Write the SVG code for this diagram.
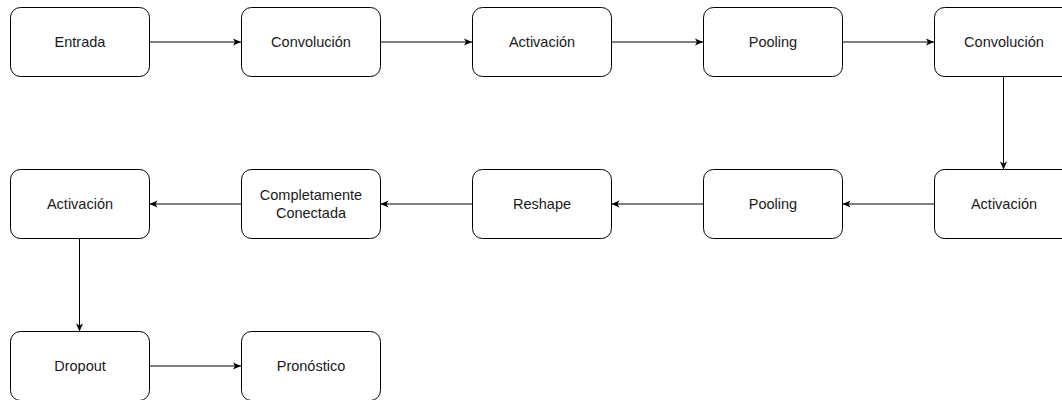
<svg xmlns="http://www.w3.org/2000/svg" width="1062" height="400" viewBox="0 0 1062 400">
<style>
.n{fill:#ffffff;stroke:#000000;stroke-width:1}
.t{font-family:"Liberation Sans",Arial,sans-serif;font-size:14.5px;fill:#1a1a1a;text-anchor:middle}
.c{fill:none;stroke:#000000;stroke-width:1;marker-end:url(#ah)}
</style>
<defs>
<marker id="ah" markerUnits="userSpaceOnUse" markerWidth="10" markerHeight="10" viewBox="0 0 10 10" refX="9" refY="5" orient="auto">
<path d="M1,1.5 L9,5 L1,8.5 L3,5 Z" fill="#000000"/>
</marker>
</defs>
<rect width="1062" height="400" fill="#ffffff"/>
<g id="connectors">
<path class="c" d="M149.5,42 L241,42"/>
<path class="c" d="M380.5,42 L472,42"/>
<path class="c" d="M611.5,42 L703,42"/>
<path class="c" d="M842.5,42 L934,42"/>
<path class="c" d="M1003.5,76.5 L1003.5,169.5"/>
<path class="c" d="M934.5,204 L842.5,204"/>
<path class="c" d="M703.5,204 L611.5,204"/>
<path class="c" d="M472.5,204 L380.5,204"/>
<path class="c" d="M241.5,204 L149.5,204"/>
<path class="c" d="M79.5,238.5 L79.5,331.5"/>
<path class="c" d="M149.5,366 L241,366"/>
</g>
<g id="n1"><rect class="n" x="10.5" y="7.5" width="139" height="69" rx="10"/><text class="t" x="80" y="47">Entrada</text></g>
<g id="n2"><rect class="n" x="241.5" y="7.5" width="139" height="69" rx="10"/><text class="t" x="311" y="47">Convolución</text></g>
<g id="n3"><rect class="n" x="472.5" y="7.5" width="139" height="69" rx="10"/><text class="t" x="542" y="47">Activación</text></g>
<g id="n4"><rect class="n" x="703.5" y="7.5" width="139" height="69" rx="10"/><text class="t" x="773" y="47">Pooling</text></g>
<g id="n5"><rect class="n" x="934.5" y="7.5" width="139" height="69" rx="10"/><text class="t" x="1004" y="47">Convolución</text></g>
<g id="n6"><rect class="n" x="934.5" y="169.5" width="139" height="69" rx="10"/><text class="t" x="1004" y="209">Activación</text></g>
<g id="n7"><rect class="n" x="703.5" y="169.5" width="139" height="69" rx="10"/><text class="t" x="773" y="209">Pooling</text></g>
<g id="n8"><rect class="n" x="472.5" y="169.5" width="139" height="69" rx="10"/><text class="t" x="542" y="209">Reshape</text></g>
<g id="n9"><rect class="n" x="241.5" y="169.5" width="139" height="69" rx="10"/><text class="t" x="311" y="200">Completamente</text><text class="t" x="311" y="218">Conectada</text></g>
<g id="n10"><rect class="n" x="10.5" y="169.5" width="139" height="69" rx="10"/><text class="t" x="80" y="209">Activación</text></g>
<g id="n11"><rect class="n" x="10.5" y="331.5" width="139" height="69" rx="10"/><text class="t" x="80" y="371">Dropout</text></g>
<g id="n12"><rect class="n" x="241.5" y="331.5" width="139" height="69" rx="10"/><text class="t" x="311" y="371">Pronóstico</text></g>
</svg>
